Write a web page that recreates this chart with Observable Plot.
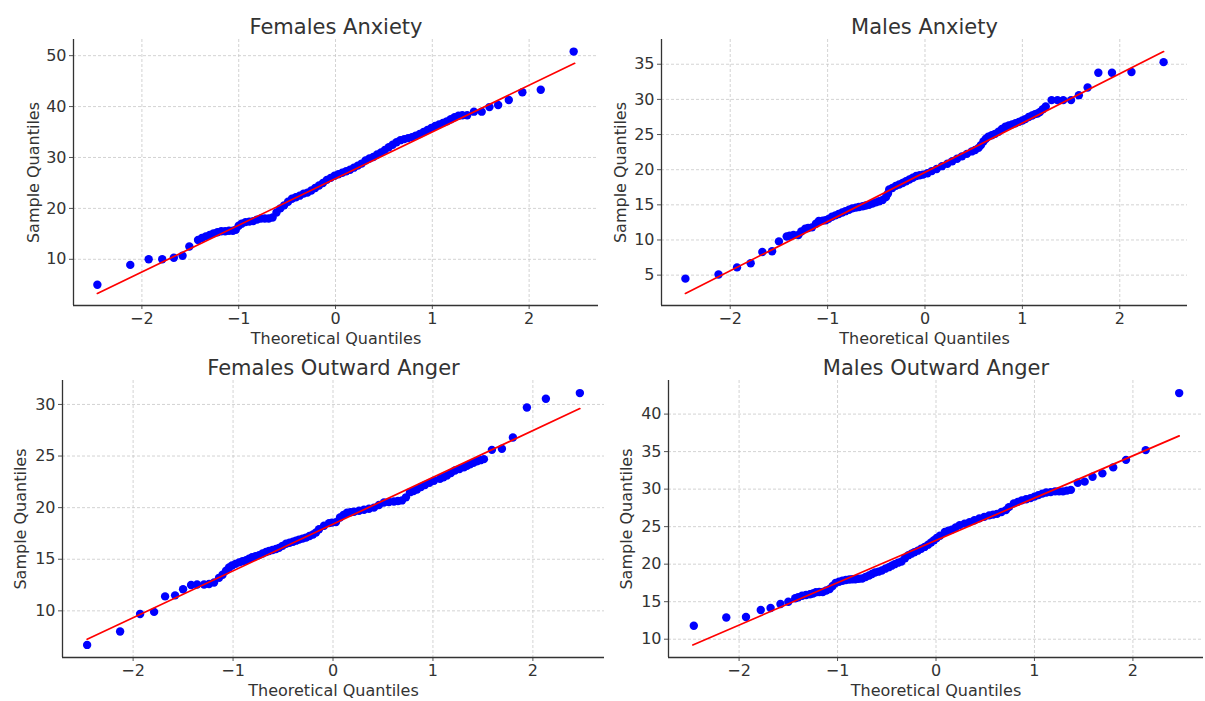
<!DOCTYPE html>
<html>
<head>
<meta charset="utf-8">
<script src="https://cdn.jsdelivr.net/npm/d3@7"></script>
<script src="https://cdn.jsdelivr.net/npm/@observablehq/plot@0.6"></script>
<style>
  html, body { margin: 0; padding: 0; background: #fff; }
  #fig { position: relative; width: 1205px; height: 701px; background: #fff; overflow: hidden; }
  #fig > div { position: absolute; }
</style>
</head>
<body>
<div id="fig"></div>
<script>
// ---------- Data ----------
const titles = ["Females Anxiety", "Males Anxiety", "Females Outward Anger", "Males Outward Anger"];
const xLabel = "Theoretical Quantiles";
const yLabel = "Sample Quantiles";
const xTicks = [-2, -1, 0, 1, 2];
const yTicksFemAnx = [10, 20, 30, 40, 50];
const yTicksMaleAnx = [5, 10, 15, 20, 25, 30, 35];
const yTicksFemAng = [10, 15, 20, 25, 30];
const yTicksMaleAng = [10, 15, 20, 25, 30, 35, 40];

// Females Anxiety: theoretical (x) and sample (y) quantiles
const femAnxX = [-2.46, -2.12, -1.93, -1.79, -1.67, -1.58, -1.51, -1.42,
  -1.38, -1.34, -1.30, -1.26, -1.22, -1.18, -1.14, -1.10, -1.06, -1.03, -1.00, -0.97, -0.93, -0.89, -0.85, -0.81,
  -0.77, -0.73, -0.69, -0.65, -0.61, -0.57, -0.53, -0.49, -0.45, -0.41, -0.37, -0.33, -0.29, -0.25, -0.21, -0.17,
  -0.13, -0.09, -0.05, -0.01, 0.03, 0.07, 0.11, 0.15, 0.19, 0.23, 0.27, 0.31, 0.35, 0.39, 0.43, 0.47, 0.51, 0.55,
  0.59, 0.63, 0.67, 0.71, 0.75, 0.79, 0.83, 0.87, 0.91, 0.95, 0.99, 1.03, 1.07, 1.11, 1.15, 1.19, 1.23, 1.27, 1.31,
  1.36, 1.43, 1.51, 1.59, 1.68, 1.79, 1.93, 2.12, 2.46];
const femAnxY = [5.0, 8.9, 10.0, 10.0, 10.3, 10.7, 12.5, 13.8,
  14.2, 14.5, 14.8, 15.1, 15.3, 15.5, 15.5, 15.6, 15.6, 15.8, 16.6, 17.0, 17.3, 17.4, 17.5, 17.8,
  18.0, 18.0, 18.0, 18.2, 19.2, 20.0, 20.6, 21.3, 21.9, 22.2, 22.5, 22.9, 23.1, 23.5, 24.0, 24.5,
  25.0, 25.6, 26.0, 26.4, 26.7, 27.0, 27.3, 27.6, 28.0, 28.4, 28.8, 29.4, 29.8, 30.1, 30.6, 31.0, 31.5, 32.0,
  32.5, 33.0, 33.4, 33.6, 33.8, 34.0, 34.3, 34.6, 35.0, 35.4, 35.8, 36.2, 36.5, 36.8, 37.1, 37.5, 37.9, 38.2, 38.3,
  38.3, 39.0, 39.0, 39.9, 40.3, 41.3, 42.8, 43.3, 50.8];
const femAnxLineX = [-2.46, 2.47];
const femAnxLineY = [3.3, 48.5];

// Males Anxiety
const maleAnxX = [-2.46, -2.12, -1.93, -1.79, -1.67, -1.57, -1.50, -1.42, -1.39, -1.35, -1.30, -1.27, -1.23, -1.20,
  -1.16, -1.12, -1.09, -1.05, -1.02, -0.99, -0.955, -0.92, -0.886, -0.85, -0.817, -0.78, -0.747, -0.71, -0.678, -0.64,
  -0.609, -0.575, -0.54, -0.505, -0.47, -0.435, -0.40, -0.38, -0.367, -0.335, -0.30, -0.265, -0.23, -0.195, -0.16,
  -0.125, -0.09, -0.055, -0.02, 0.025, 0.07, 0.12, 0.175, 0.23, 0.28, 0.33, 0.38, 0.43, 0.48, 0.515, 0.55, 0.575,
  0.60, 0.625, 0.65, 0.685, 0.72, 0.755, 0.79, 0.825, 0.86, 0.895, 0.93, 0.965, 1.00, 1.03, 1.065, 1.10, 1.13,
  1.155, 1.18, 1.21, 1.24, 1.30, 1.36, 1.42, 1.50, 1.58, 1.67, 1.78, 1.92, 2.12, 2.45];
const maleAnxY = [4.5, 5.1, 6.1, 6.7, 8.3, 8.4, 9.8, 10.5, 10.6, 10.7, 10.7, 11.2, 11.6, 11.7,
  11.8, 12.3, 12.7, 12.75, 12.8, 13.0, 13.3, 13.5, 13.7, 13.9, 14.1, 14.3, 14.5, 14.6, 14.7, 14.8,
  14.9, 15.0, 15.2, 15.35, 15.5, 15.7, 16.1, 16.6, 17.2, 17.4, 17.7, 17.9, 18.1, 18.35, 18.6,
  18.85, 19.1, 19.2, 19.3, 19.5, 19.8, 20.1, 20.5, 20.85, 21.2, 21.55, 21.9, 22.25, 22.6, 22.8, 23.1, 23.5,
  24.0, 24.4, 24.7, 24.9, 25.1, 25.4, 25.8, 26.1, 26.3, 26.45, 26.6, 26.8, 27.0, 27.2, 27.5, 27.7, 27.9,
  28.0, 28.2, 28.6, 29.0, 29.9, 29.9, 29.9, 29.9, 30.6, 31.7, 33.8, 33.8, 33.9, 35.3];
const maleAnxLineX = [-2.46, 2.45];
const maleAnxLineY = [2.4, 36.8];

// Females Outward Anger
const femAngX = [-2.46, -2.13, -1.93, -1.79, -1.68, -1.58, -1.50, -1.42, -1.36, -1.29, -1.24, -1.19, -1.14, -1.105,
  -1.07, -1.04, -1.01, -0.975, -0.94, -0.905, -0.87, -0.84, -0.81, -0.775, -0.74, -0.705, -0.67, -0.64, -0.605,
  -0.57, -0.54, -0.505, -0.47, -0.435, -0.40, -0.37, -0.34, -0.305, -0.27, -0.235, -0.20, -0.17, -0.14, -0.09,
  -0.04, -0.01, 0.03, 0.07, 0.105, 0.14, 0.175, 0.21, 0.26, 0.31, 0.36, 0.41, 0.46, 0.51, 0.56, 0.61, 0.65, 0.69,
  0.73, 0.77, 0.805, 0.84, 0.88, 0.92, 0.965, 1.01, 1.07, 1.105, 1.14, 1.18, 1.22, 1.265, 1.31, 1.34, 1.37, 1.405,
  1.44, 1.475, 1.51, 1.59, 1.69, 1.80, 1.94, 2.13, 2.47];
const femAngY = [6.7, 8.0, 9.7, 9.9, 11.4, 11.5, 12.1, 12.5, 12.56, 12.56, 12.6, 12.75, 13.2, 13.5,
  13.9, 14.2, 14.4, 14.55, 14.7, 14.8, 14.9, 15.05, 15.2, 15.3, 15.4, 15.55, 15.7, 15.8, 15.9,
  16.0, 16.1, 16.3, 16.5, 16.6, 16.7, 16.8, 16.9, 17.0, 17.1, 17.25, 17.4, 17.6, 17.9, 18.25,
  18.5, 18.55, 18.6, 19.05, 19.3, 19.5, 19.55, 19.6, 19.7, 19.8, 19.9, 20.0, 20.25, 20.5, 20.55, 20.6, 20.65, 20.7,
  21.0, 21.5, 21.6, 21.75, 22.0, 22.2, 22.4, 22.6, 22.8, 22.95, 23.1, 23.35, 23.6, 23.75, 23.9, 24.05, 24.2, 24.35,
  24.5, 24.6, 24.7, 25.6, 25.7, 26.8, 29.7, 30.55, 31.1];
const femAngLineX = [-2.46, 2.47];
const femAngLineY = [7.25, 29.6];

// Males Outward Anger
const maleAngX = [-2.46, -2.13, -1.93, -1.78, -1.68, -1.58, -1.50, -1.43, -1.40, -1.36, -1.32, -1.28, -1.25, -1.22,
  -1.185, -1.15, -1.115, -1.08, -1.05, -1.02, -0.985, -0.95, -0.915, -0.88, -0.85, -0.82, -0.785, -0.75, -0.715,
  -0.68, -0.65, -0.62, -0.585, -0.55, -0.515, -0.48, -0.45, -0.42, -0.385, -0.35, -0.315, -0.28, -0.25, -0.22,
  -0.185, -0.15, -0.115, -0.08, -0.05, -0.02, 0.007, 0.04, 0.09, 0.125, 0.16, 0.20, 0.24, 0.29, 0.34, 0.39, 0.44,
  0.49, 0.54, 0.58, 0.62, 0.665, 0.71, 0.74, 0.79, 0.83, 0.87, 0.915, 0.96, 1.0, 1.04, 1.08, 1.12, 1.165, 1.21,
  1.25, 1.29, 1.33, 1.37, 1.44, 1.51, 1.59, 1.69, 1.80, 1.93, 2.13, 2.47];
const maleAngY = [11.8, 12.9, 12.95, 13.9, 14.15, 14.7, 15.0, 15.45, 15.6, 15.8, 15.9, 16.0, 16.1, 16.25,
  16.3, 16.3, 16.5, 16.7, 17.1, 17.5, 17.65, 17.8, 17.9, 17.95, 18.0, 18.0, 18.05, 18.1, 18.3,
  18.5, 18.7, 18.9, 19.0, 19.15, 19.4, 19.6, 19.8, 20.0, 20.2, 20.35, 20.8, 21.2, 21.4, 21.6,
  21.8, 22.05, 22.3, 22.6, 22.9, 23.2, 23.5, 23.8, 24.3, 24.45, 24.6, 24.9, 25.2, 25.4, 25.6, 25.85, 26.1,
  26.3, 26.5, 26.6, 26.7, 26.95, 27.2, 27.6, 28.1, 28.3, 28.5, 28.65, 28.8, 29.0, 29.2, 29.4, 29.55, 29.6, 29.7,
  29.7, 29.7, 29.8, 29.9, 30.85, 31.0, 31.65, 32.1, 32.9, 33.9, 35.2, 42.8];
const maleAngLineX = [-2.47, 2.47];
const maleAngLineY = [9.24, 37.1];

// ---------- Drawing ----------
const fontFamily = "'DejaVu Sans', sans-serif";
const textColor = "#333";
const fmt = d3.format("d");

function pad(lo, hi) { const m = (hi - lo) * 0.05; return [lo - m, hi + m]; }

function panel(cfg) {
  const pts = cfg.xs.map((x, i) => ({x, y: cfg.ys[i]}));
  const line = cfg.lx.map((x, i) => ({x, y: cfg.ly[i]}));
  const allY = cfg.ys.concat(cfg.ly);
  const allX = cfg.xs.concat(cfg.lx);
  const xDomain = pad(d3.min(allX), d3.max(allX));
  const yDomain = pad(d3.min(allY), d3.max(allY));
  const gridStyle = {stroke: "#c8c8c8", strokeOpacity: 1, strokeWidth: 0.8, strokeDasharray: "3,2"};
  const svg = Plot.plot({
    width: cfg.width, height: cfg.height,
    marginLeft: cfg.mL, marginRight: cfg.mR, marginTop: cfg.mT, marginBottom: cfg.mB,
    style: {background: "none", fontFamily, fontSize: "16px", color: textColor, overflow: "visible"},
    x: {domain: xDomain},
    y: {domain: yDomain},
    marks: [
      Plot.gridX(xTicks, gridStyle),
      Plot.gridY(cfg.yTicks, gridStyle),
      Plot.axisX(xTicks, {tickSize: 4, tickPadding: 3, tickFormat: fmt, label: null, fill: textColor, stroke: "#555", fontSize: 16}),
      Plot.axisY(cfg.yTicks, {tickSize: 4, tickPadding: 3, tickFormat: fmt, label: null, fill: textColor, stroke: "#555", fontSize: 16}),
      Plot.ruleX([xDomain[0]], {stroke: "#333", strokeWidth: 1.3}),
      Plot.ruleY([yDomain[0]], {stroke: "#333", strokeWidth: 1.3}),
      Plot.dot(pts, {x: "x", y: "y", r: 4.2, fill: "#0000ff", stroke: null}),
      Plot.line(line, {x: "x", y: "y", stroke: "#ff0000", strokeWidth: 1.7}),
      Plot.text([cfg.title], {text: d => d, frameAnchor: "top", dy: -20, fontSize: 21, fill: textColor}),
      Plot.text([xLabel], {text: d => d, frameAnchor: "bottom", dy: 38, fontSize: 16, fill: textColor}),
      Plot.text([yLabel], {text: d => d, frameAnchor: "left", textAnchor: "middle", dx: cfg.ylDx, rotate: -90, fontSize: 16, fill: textColor})
    ]
  });
  const holder = document.createElement("div");
  holder.style.left = cfg.left + "px";
  holder.style.top = cfg.top + "px";
  holder.appendChild(svg);
  document.getElementById("fig").appendChild(holder);
}

panel({title: titles[0], xs: femAnxX, ys: femAnxY, lx: femAnxLineX, ly: femAnxLineY, yTicks: yTicksFemAnx,
  left: 0, top: 0, width: 602, height: 345, mL: 73, mR: 4, mT: 39, mB: 40, ylDx: -40});
panel({title: titles[1], xs: maleAnxX, ys: maleAnxY, lx: maleAnxLineX, ly: maleAnxLineY, yTicks: yTicksMaleAnx,
  left: 602, top: 0, width: 603, height: 345, mL: 59, mR: 18, mT: 39, mB: 40, ylDx: -41});
panel({title: titles[2], xs: femAngX, ys: femAngY, lx: femAngLineX, ly: femAngLineY, yTicks: yTicksFemAng,
  left: 0, top: 345, width: 605, height: 356, mL: 62, mR: 1, mT: 35, mB: 44, ylDx: -42});
panel({title: titles[3], xs: maleAngX, ys: maleAngY, lx: maleAngLineX, ly: maleAngLineY, yTicks: yTicksMaleAng,
  left: 605, top: 345, width: 600, height: 356, mL: 63, mR: 2, mT: 35, mB: 44, ylDx: -42});
</script>
</body>
</html>
